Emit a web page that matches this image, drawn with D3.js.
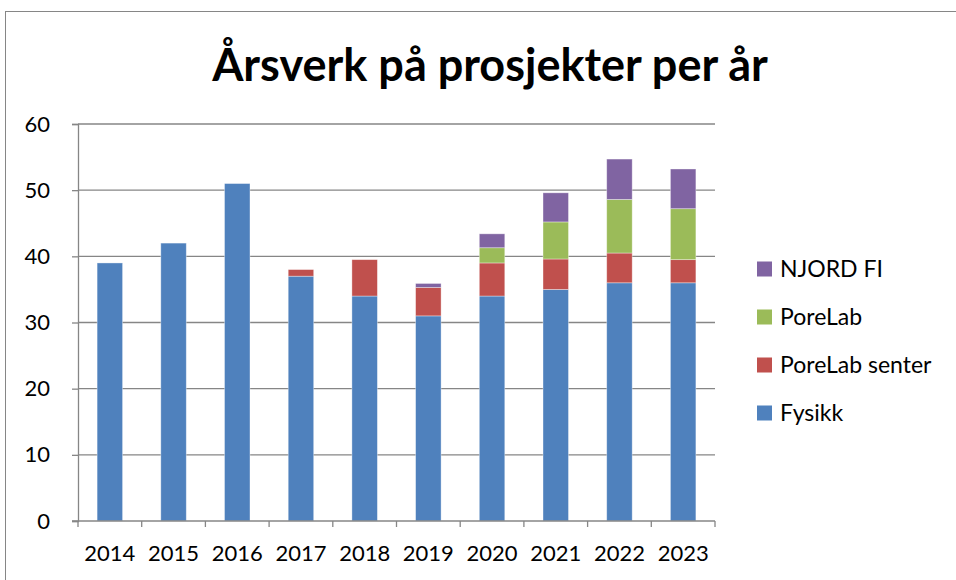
<!DOCTYPE html>
<html lang="no">
<head>
    <meta charset="UTF-8">
    <title>Årsverk på prosjekter per år</title>
    <script src="https://d3js.org/d3.v7.min.js"></script>
    <style>
        body { margin: 0; background: #fff; font-family: Lato, "Open Sans", sans-serif; }
    </style>
</head>
<body>
    <div id="chart"></div>
    <script>
        // data
        const years = ["2014", "2015", "2016", "2017", "2018", "2019", "2020", "2021", "2022", "2023"];
        const fysikk        = [39, 42, 51, 37, 34, 31, 34, 35, 36, 36];
        const porelabSenter = [0, 0, 0, 1, 5.5, 4.3, 5, 4.6, 4.5, 3.5];
        const porelab       = [0, 0, 0, 0, 0, 0, 2.3, 5.6, 8.1, 7.7];
        const njord         = [0, 0, 0, 0, 0, 0.6, 2.1, 4.4, 6.1, 6.0];
        const seriesNames = ["Fysikk", "PoreLab senter", "PoreLab", "NJORD FI"];
        const colors = ["#4F81BD", "#C0504D", "#9BBB59", "#8064A2"];
        const yTicks = [0, 10, 20, 30, 40, 50, 60];

        const W = 956, H = 580;
        const plot = {left: 78, right: 715, top: 124, bottom: 521};

        const svg = d3.select('#chart').append('svg')
            .attr('width', W).attr('height', H);

        // outer chart border
        svg.append('rect')
            .attr('x', 5.5).attr('y', 11.5)
            .attr('width', 960).attr('height', 600)
            .attr('fill', 'none').attr('stroke', '#868686').attr('stroke-width', 1);

        svg.append('text')
            .attr('x', 490).attr('y', 81)
            .attr('text-anchor', 'middle')
            .attr('font-size', 45).attr('font-weight', 'bold')
            .text('Årsverk på prosjekter per år');

        const x = d3.scaleBand().domain(years).range([plot.left, plot.right]).paddingInner(0.6).paddingOuter(0.3);
        const y = d3.scaleLinear().domain([0, 60]).range([plot.bottom, plot.top]);

        // gridlines
        svg.append('g').selectAll('line').data(yTicks.slice(1)).enter().append('line')
            .attr('x1', plot.left).attr('x2', plot.right)
            .attr('y1', d => y(d)).attr('y2', d => y(d))
            .attr('stroke', '#868686').attr('stroke-width', 1.3);

        // stacked bars
        const rows = years.map((yr, i) => ({year: yr, Fysikk: fysikk[i], 'PoreLab senter': porelabSenter[i], PoreLab: porelab[i], 'NJORD FI': njord[i]}));
        const stack = d3.stack().keys(seriesNames)(rows);

        svg.append('g').selectAll('g').data(stack).enter().append('g')
            .attr('fill', (d, i) => colors[i])
            .selectAll('rect').data(d => d.filter(p => p[1] - p[0] > 0)).enter().append('rect')
            .attr('x', d => x(d.data.year))
            .attr('width', x.bandwidth())
            .attr('y', d => y(d[1]))
            .attr('height', d => y(d[0]) - y(d[1]))
            .attr('stroke', 'rgba(255,255,255,0.45)').attr('stroke-width', 0.8);

        // y axis
        const yAxis = svg.append('g')
            .attr('transform', `translate(${plot.left},0)`)
            .call(d3.axisLeft(y).tickValues(yTicks).tickSize(6).tickPadding(22));
        yAxis.select('.domain').attr('stroke', '#868686').attr('stroke-width', 1.3);
        yAxis.selectAll('.tick line').attr('stroke', '#868686').attr('stroke-width', 1.3);
        yAxis.selectAll('text').attr('font-size', 22).attr('font-family', 'Lato, sans-serif').attr('fill', '#000');

        // x axis: ticks at category boundaries
        const xAxis = svg.append('g')
            .attr('transform', `translate(0,${plot.bottom})`)
            .call(d3.axisBottom(x).tickSize(0).tickPadding(24));
        xAxis.select('.domain').remove();
        xAxis.selectAll('text').attr('font-size', 22).attr('font-family', 'Lato, sans-serif').attr('fill', '#000');
        xAxis.append('line')
            .attr('x1', plot.left - 6).attr('x2', plot.right)
            .attr('stroke', '#868686').attr('stroke-width', 1.3);
        xAxis.selectAll('.bnd').data(d3.range(years.length + 1)).enter().append('line')
            .attr('x1', i => plot.left + i * (plot.right - plot.left) / years.length)
            .attr('x2', i => plot.left + i * (plot.right - plot.left) / years.length)
            .attr('y1', 0).attr('y2', 6)
            .attr('stroke', '#868686').attr('stroke-width', 1.3);

        // legend, top entry is the last series
        const legend = svg.append('g');
        const order = seriesNames.map((n, i) => i).reverse();
        order.forEach((si, k) => {
            const cy = 269 + k * 48;
            legend.append('rect').attr('x', 757).attr('y', cy - 7.5).attr('width', 15).attr('height', 15).attr('fill', colors[si]);
            legend.append('text').attr('x', 780).attr('y', cy + 8).attr('font-size', 23).text(seriesNames[si]);
        });
    </script>
</body>
</html>
